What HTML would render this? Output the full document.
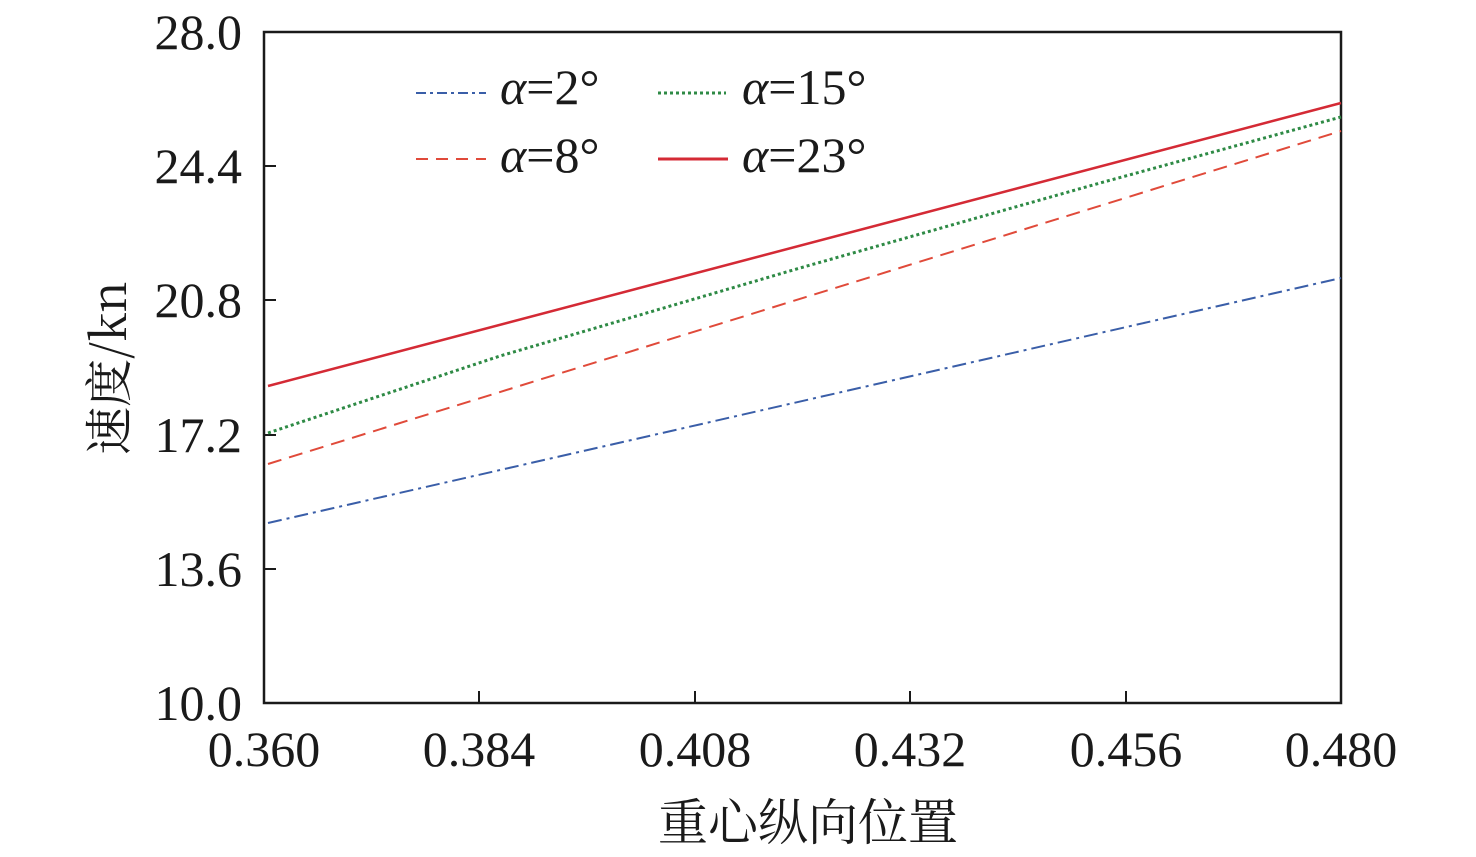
<!DOCTYPE html>
<html><head><meta charset="utf-8"><style>
html,body{margin:0;padding:0;background:#fff;}
svg text{font-family:"Liberation Serif","Times New Roman",serif;fill:#1a1a1a;}
svg text.cjk{font-family:"Noto Serif CJK SC","Liberation Serif",serif;}
</style></head><body>
<svg width="1476" height="852" viewBox="0 0 1476 852" xmlns="http://www.w3.org/2000/svg">
<rect x="264" y="32" width="1077" height="671" fill="none" stroke="#1a1a1a" stroke-width="2.5"/>
<g stroke="#1a1a1a" stroke-width="2">
<line x1="264" y1="166" x2="276" y2="166"/><line x1="264" y1="300" x2="276" y2="300"/>
<line x1="264" y1="435" x2="276" y2="435"/><line x1="264" y1="569" x2="276" y2="569"/>
<line x1="479" y1="703" x2="479" y2="691"/><line x1="695" y1="703" x2="695" y2="691"/>
<line x1="910" y1="703" x2="910" y2="691"/><line x1="1126" y1="703" x2="1126" y2="691"/>
</g>
<g font-size="50" text-anchor="end">
<text x="242" y="49">28.0</text><text x="242" y="183">24.4</text><text x="242" y="317">20.8</text>
<text x="242" y="452">17.2</text><text x="242" y="586">13.6</text><text x="242" y="720">10.0</text>
</g>
<g font-size="50" text-anchor="middle">
<text x="264" y="766">0.360</text><text x="479" y="766">0.384</text><text x="695" y="766">0.408</text>
<text x="910" y="766">0.432</text><text x="1126" y="766">0.456</text><text x="1341" y="766">0.480</text>
</g>
<text class="cjk" x="808" y="840" font-size="50" text-anchor="middle">重心纵向位置</text>
<text class="cjk" transform="translate(126,368) rotate(-90)" font-size="48" text-anchor="middle">速度/kn</text>
<polyline points="268,523 1341,278" fill="none" stroke="#3a5ea8" stroke-width="2" stroke-dasharray="14,5,3,5"/>
<polyline points="268,464 1341,131" fill="none" stroke="#e04a3a" stroke-width="2" stroke-dasharray="14,8"/>
<polyline points="268,433 500,356 800,268 1100,183 1341,117" fill="none" stroke="#2e8a45" stroke-width="3" stroke-dasharray="3,3"/>
<polyline points="268,386 1341,103" fill="none" stroke="#d42a35" stroke-width="2.5"/>
<line x1="416" y1="93" x2="486" y2="93" stroke="#3a5ea8" stroke-width="2" stroke-dasharray="10,4,3,4"/>
<line x1="416" y1="159" x2="486" y2="159" stroke="#e04a3a" stroke-width="2" stroke-dasharray="12,8"/>
<line x1="658" y1="93" x2="726" y2="93" stroke="#2e8a45" stroke-width="3" stroke-dasharray="3,3"/>
<line x1="658" y1="159" x2="728" y2="159" stroke="#d42a35" stroke-width="3"/>
<g font-size="50">
<text x="500" y="104"><tspan font-style="italic">α</tspan>=2°</text>
<text x="500" y="172"><tspan font-style="italic">α</tspan>=8°</text>
<text x="742" y="104"><tspan font-style="italic">α</tspan>=15°</text>
<text x="742" y="172"><tspan font-style="italic">α</tspan>=23°</text>
</g>
</svg>
</body></html>
